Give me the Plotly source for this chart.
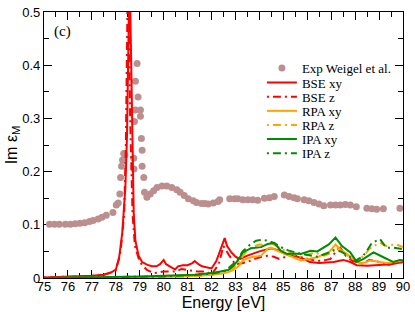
import plotly.graph_objects as go

# Experimental data (Weigel et al.)
exp_E = [75.23, 75.44, 75.64, 75.89, 76.1, 76.3, 76.5, 76.7, 76.9, 77.05, 77.26, 77.42, 77.6, 77.88,
         78.02, 78.1, 78.17, 78.2, 78.24, 78.28, 78.33, 78.38, 78.75, 78.76, 78.78, 78.82, 78.82,
         78.89, 78.93, 79.03, 79.03, 79.07, 79.1, 79.1, 79.17, 79.2, 79.3, 79.44, 79.58, 79.72,
         79.93, 80.13, 80.34, 80.55, 80.69, 80.86, 81.03, 81.24, 81.37, 81.58, 81.72, 81.86, 82.07,
         82.27, 82.34, 82.76, 82.97, 83.1, 83.31, 83.52, 83.72, 83.93, 84.21, 84.42, 84.62, 85.04,
         85.24, 85.45, 85.59, 85.87, 86.07, 86.28, 86.49, 86.69, 86.97, 87.18, 87.38, 87.59, 87.8,
         88.05, 88.49, 88.7, 88.9, 89.18, 89.87]
exp_V = [0.101, 0.101, 0.101, 0.101, 0.101, 0.102, 0.103, 0.104, 0.106, 0.108, 0.111, 0.114, 0.118, 0.123,
         0.137, 0.141, 0.158, 0.189, 0.210, 0.222, 0.234, 0.231, 0.225, 0.205, 0.294, 0.370, 0.316,
         0.403, 0.340, 0.316, 0.304, 0.262, 0.240, 0.210, 0.189, 0.161, 0.152, 0.158, 0.164, 0.170,
         0.173, 0.173, 0.170, 0.166, 0.161, 0.155, 0.149, 0.145, 0.142, 0.140, 0.140, 0.139, 0.141,
         0.144, 0.147, 0.149, 0.149, 0.149, 0.147, 0.147, 0.147, 0.146, 0.150, 0.151, 0.153, 0.156,
         0.153, 0.151, 0.149, 0.147, 0.145, 0.142, 0.139, 0.136, 0.137, 0.137, 0.137, 0.138, 0.137,
         0.134, 0.131, 0.130, 0.129, 0.130, 0.131]

# BSE xy
bse_xy_E = [75.0, 76.0, 77.0, 77.5, 77.8, 78.0, 78.13, 78.27, 78.4, 78.47, 78.52, 78.56, 78.6, 78.65,
            78.68, 78.75, 78.82, 78.95, 79.1, 79.3, 79.5, 79.7, 79.85, 79.95, 80.0, 80.1, 80.3, 80.48,
            80.6, 80.8, 81.0, 81.2, 81.3, 81.45, 81.6, 81.8, 82.0, 82.2, 82.35, 82.5, 82.55, 82.65,
            82.83, 83.0, 83.2, 83.5, 84.0, 84.5, 84.8, 85.0, 85.3, 85.6, 85.9, 86.1, 86.5, 87.1,
            87.5, 87.8, 88.07, 88.5, 89.0, 89.5, 90.0]
bse_xy_V = [0.001, 0.002, 0.004, 0.006, 0.010, 0.016, 0.035, 0.085, 0.170, 0.270, 0.420, 0.540, 0.520, 0.380,
            0.270, 0.120, 0.070, 0.042, 0.030, 0.025, 0.022, 0.022, 0.026, 0.033, 0.034, 0.026, 0.020, 0.016,
            0.022, 0.024, 0.024, 0.028, 0.032, 0.026, 0.022, 0.020, 0.018, 0.032, 0.052, 0.072, 0.075, 0.060,
            0.048, 0.040, 0.036, 0.042, 0.050, 0.056, 0.052, 0.047, 0.042, 0.040, 0.035, 0.030, 0.028, 0.030,
            0.034, 0.030, 0.024, 0.023, 0.024, 0.026, 0.030]

# BSE z
bse_z_E = [75.0, 76.0, 77.0, 77.5, 78.0, 78.2, 78.35, 78.42, 78.47, 78.5, 78.55, 78.6, 78.7, 78.8,
           79.0, 79.3, 79.6, 80.0, 80.5, 80.75, 81.0, 81.45, 81.8, 82.0, 82.3, 82.5, 82.7, 83.0,
           83.5, 83.8, 84.1, 84.35, 84.6, 84.83, 85.1, 85.4, 85.7, 86.0, 86.3, 86.6, 86.97, 87.2,
           87.38, 87.6, 87.9, 88.33, 88.6, 89.04, 89.4, 89.7, 90.0]
bse_z_V = [0.001, 0.002, 0.004, 0.006, 0.014, 0.050, 0.120, 0.250, 0.450, 0.560, 0.500, 0.300, 0.120, 0.060,
           0.030, 0.015, 0.009, 0.012, 0.012, 0.017, 0.015, 0.012, 0.012, 0.006, 0.026, 0.060, 0.045, 0.025,
           0.030, 0.036, 0.040, 0.042, 0.040, 0.036, 0.040, 0.043, 0.040, 0.036, 0.033, 0.032, 0.036, 0.050,
           0.057, 0.042, 0.032, 0.027, 0.034, 0.030, 0.025, 0.028, 0.030]

# RPA xy
rpa_xy_E = [75.0, 77.0, 79.0, 80.0, 81.0, 81.5, 82.0, 82.4, 82.7, 82.9, 83.1, 83.31, 83.65, 84.07,
            84.35, 84.48, 84.76, 85.17, 85.45, 85.73, 86.1, 86.42, 86.7, 86.9, 87.18, 87.45, 87.7,
            87.94, 88.2, 88.4, 88.62, 88.8, 89.04, 89.3, 89.6, 90.0]
rpa_xy_V = [0.000, 0.000, 0.001, 0.002, 0.003, 0.004, 0.006, 0.008, 0.011, 0.015, 0.021, 0.033, 0.039, 0.042,
            0.055, 0.057, 0.051, 0.043, 0.038, 0.033, 0.036, 0.039, 0.045, 0.048, 0.063, 0.051, 0.044,
            0.036, 0.027, 0.029, 0.033, 0.032, 0.030, 0.028, 0.030, 0.033]

# RPA z
rpa_z_E = [75.0, 77.0, 79.0, 80.0, 81.0, 82.0, 82.5, 82.9, 83.2, 83.5, 83.8, 84.0, 84.21, 84.5,
           84.8, 85.1, 85.4, 85.7, 86.0, 86.3, 86.7, 87.0, 87.2, 87.5, 87.8, 88.1, 88.42, 88.6,
           88.77, 89.04, 89.3, 89.5, 89.73, 90.0]
rpa_z_V = [0.000, 0.000, 0.001, 0.002, 0.003, 0.006, 0.010, 0.018, 0.035, 0.052, 0.060, 0.063, 0.062, 0.065,
           0.058, 0.050, 0.045, 0.040, 0.044, 0.048, 0.042, 0.047, 0.058, 0.048, 0.038, 0.032, 0.045, 0.055,
           0.060, 0.066, 0.060, 0.062, 0.063, 0.058]

# IPA xy
ipa_xy_E = [75.0, 77.0, 79.1, 80.0, 81.3, 82.1, 82.69, 82.9, 83.1, 83.31, 83.65, 84.07, 84.35, 84.62,
            84.9, 85.17, 85.45, 85.73, 86.14, 86.42, 86.69, 86.9, 87.18, 87.45, 87.8, 88.07, 88.35,
            88.77, 89.18, 89.6, 89.87, 90.0]
ipa_xy_V = [0.000, 0.001, 0.003, 0.004, 0.006, 0.010, 0.015, 0.022, 0.033, 0.048, 0.056, 0.058, 0.064, 0.066,
            0.051, 0.045, 0.046, 0.045, 0.051, 0.050, 0.057, 0.063, 0.076, 0.060, 0.048, 0.030, 0.036,
            0.048, 0.039, 0.030, 0.034, 0.033]

# IPA z
ipa_z_E = [75.0, 77.0, 79.0, 80.0, 81.0, 82.0, 82.6, 83.0, 83.3, 83.59, 83.86, 84.1, 84.35, 84.6,
           84.9, 85.2, 85.5, 85.8, 86.1, 86.42, 86.8, 87.1, 87.4, 87.7, 88.0, 88.3, 88.49, 88.7,
           89.04, 89.3, 89.6, 89.87, 90.0]
ipa_z_V = [0.000, 0.001, 0.002, 0.003, 0.005, 0.008, 0.014, 0.030, 0.050, 0.062, 0.070, 0.072, 0.070, 0.066,
           0.058, 0.052, 0.048, 0.045, 0.042, 0.040, 0.046, 0.052, 0.050, 0.042, 0.032, 0.040, 0.051, 0.066,
           0.073, 0.057, 0.057, 0.055, 0.054]

x_ticks = [75, 76, 77, 78, 79, 80, 81, 82, 83, 84, 85, 86, 87, 88, 89, 90]
y_ticks = [0, 0.1, 0.2, 0.3, 0.4, 0.5]
y_tick_labels = ["0", "0.1", "0.2", "0.3", "0.4", "0.5"]

RED = "#ff0000"
ORANGE = "#ffa500"
GREEN = "#008c00"
EXPC = "#bc8f8f"
DASHDOT = "2px,4px,8px,4px"

series = [
    ("Exp Weigel et al.", exp_E, exp_V, None, None),
    ("BSE xy", bse_xy_E, bse_xy_V, RED, "solid"),
    ("BSE z", bse_z_E, bse_z_V, RED, DASHDOT),
    ("RPA xy", rpa_xy_E, rpa_xy_V, ORANGE, "solid"),
    ("RPA z", rpa_z_E, rpa_z_V, ORANGE, DASHDOT),
    ("IPA xy", ipa_xy_E, ipa_xy_V, GREEN, "solid"),
    ("IPA z", ipa_z_E, ipa_z_V, GREEN, DASHDOT),
]

# legend row centres (px from top of the figure), one legend per entry
legend_rows_px = [62.5, 77.5, 92, 106.5, 121, 135.5, 150]
PLOT_TOP, PLOT_BOTTOM = 5, 278

fig = go.Figure()
layout_legends = {}
for i, (name, xs, ys, col, dash) in enumerate(series):
    lg = "legend" if i == 0 else f"legend{i + 1}"
    if col is None:
        tr = go.Scatter(x=xs, y=ys, mode="markers", name=name, legend=lg,
                        marker=dict(color=EXPC, size=7, line=dict(width=0)))
    else:
        tr = go.Scatter(x=xs, y=ys, mode="lines", name=name, legend=lg,
                        line=dict(color=col, width=2, dash=dash))
    fig.add_trace(tr)
    ypaper = (PLOT_BOTTOM - legend_rows_px[i]) / (PLOT_BOTTOM - PLOT_TOP)
    layout_legends[lg] = dict(x=0.607, y=ypaper, xanchor="left", yanchor="middle",
                              font=dict(family="Liberation Serif", size=13, color="black"),
                              bgcolor="rgba(0,0,0,0)", itemwidth=30, borderwidth=0)

fig.add_annotation(x=75.35, y=0.463, text="(c)", showarrow=False, xanchor="left",
                   font=dict(family="Liberation Serif", size=15, color="black"))

axis_common = dict(showline=True, linecolor="black", linewidth=1.2, mirror="allticks",
                   ticks="inside", ticklen=8, tickwidth=1.2, tickcolor="black",
                   showgrid=False, zeroline=False, layer="below traces",
                   ticklabeloverflow="allow",
                   tickfont=dict(family="Liberation Sans", size=13, color="black"))

fig.update_layout(
    width=415, height=312,
    margin=dict(l=44, r=8, t=5, b=34),
    paper_bgcolor="white", plot_bgcolor="white",
    showlegend=True,
    xaxis=dict(range=[75, 90], tickmode="array", tickvals=x_ticks,
               minor=dict(ticks="inside", dtick=0.5, ticklen=5, tickcolor="black"),
               ticklabelstandoff=-4,
               title=dict(text="Energy [eV]", font=dict(family="Liberation Sans", size=16, color="black"),
                          standoff=0),
               **axis_common),
    yaxis=dict(range=[0, 0.5], tickmode="array", tickvals=y_ticks, ticktext=y_tick_labels,
               minor=dict(ticks="inside", dtick=0.05, ticklen=5, tickcolor="black"),
               title=dict(text="Im ε<sub>M</sub>", font=dict(family="Liberation Sans", size=16, color="black"),
                          standoff=0),
               **axis_common),
    **layout_legends,
)

fig.write_html("out.html", config={"displayModeBar": False},
               post_script="document.body.style.margin='0';")
